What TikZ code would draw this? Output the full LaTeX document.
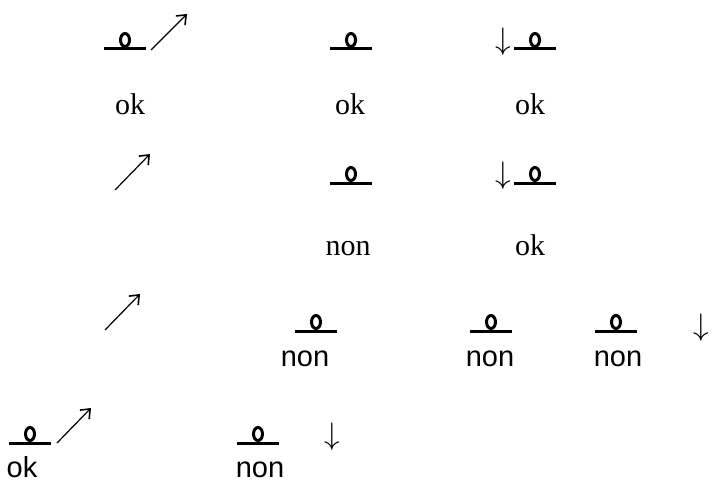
\documentclass[tikz,border=0pt]{standalone}
\usepackage{fontspec}
\setmainfont{Liberation Serif}
\setsansfont{Liberation Sans}
\usetikzlibrary{arrows.meta}
\newcommand{\fbas}{\scalebox{1.25}{$\downarrow$}}
\tikzset{
  seuil/.pic={
    \draw[line width=3pt] (-21,0) -- (21,0);
    \draw[line width=3pt] (0,-9) ellipse (4.5 and 6.5);
  },
  etiq/.style={anchor=base, inner sep=0pt, font=\fontsize{30}{30}\selectfont},
  etiqsf/.style={etiq, font=\sffamily\fontsize{29}{29}\selectfont},
  bas/.style={inner sep=0pt, font=\fontsize{24}{24}\selectfont},
  monte/.style={line width=1.2pt, -{Straight Barb[length=8pt,width=13pt,line width=1.6pt]}}
}
\begin{document}
\begin{tikzpicture}[x=1pt,y=-1pt]
\useasboundingbox (0,0) rectangle (712,484);

% first row
\pic at (125,49) {seuil};
\coordinate (a1) at (151,50);
\coordinate (b1) at (187,14);
\pic at (351,49) {seuil};
\node[bas] (d1) at (503,42) {\fbas};
\pic at (535,49) {seuil};
\node[etiq] (t11) at (130,115) {ok};
\node[etiq] (t12) at (350,115) {ok};
\node[etiq] (t13) at (530,115) {ok};

% second row
\coordinate (a2) at (115,190);
\coordinate (b2) at (150,154);
\pic at (351,183) {seuil};
\node[bas] (d2) at (503,176) {\fbas};
\pic at (535,183) {seuil};
\node[etiq] (t22) at (348,255) {non};
\node[etiq] (t23) at (530,255) {ok};

% third row
\coordinate (a3) at (105,330);
\coordinate (b3) at (140,294);
\pic at (316,331) {seuil};
\pic at (491,331) {seuil};
\pic at (616,331) {seuil};
\node[bas] (d3) at (701,328) {\fbas};
\node[etiqsf] (t31) at (305,366) {non};
\node[etiqsf] (t32) at (490,366) {non};
\node[etiqsf] (t33) at (618,366) {non};

% fourth row
\pic at (30,443) {seuil};
\coordinate (a4) at (57,443);
\coordinate (b4) at (91,408);
\pic at (258,443) {seuil};
\node[bas] (d4) at (332,437) {\fbas};
\node[etiqsf] (t41) at (22,477) {ok};
\node[etiqsf] (t42) at (260,477) {non};

\draw[monte] (a1) -- (b1);
\draw[monte] (a2) -- (b2);
\draw[monte] (a3) -- (b3);
\draw[monte] (a4) -- (b4);
\end{tikzpicture}
\end{document}
